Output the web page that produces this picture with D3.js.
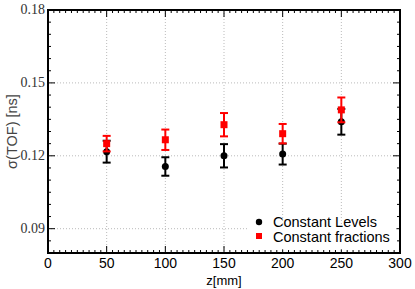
<!DOCTYPE html>
<html>
<head>
<meta charset="utf-8">
<script src="https://cdn.jsdelivr.net/npm/d3@7"></script>
<style>
  body { margin: 0; background: #fff; }
</style>
</head>
<body>
<div id="chart"></div>
<script>
// z positions [mm]
const zPos = [50, 100, 150, 200, 250];
// Constant Levels
const levelsVal = [0.1217, 0.1156, 0.1200, 0.1207, 0.1340];
const levelsErr = [0.0045, 0.0038, 0.0048, 0.0043, 0.0053];
// Constant fractions
const fracVal = [0.1250, 0.1266, 0.1328, 0.1291, 0.1389];
const fracErr = [0.0032, 0.0042, 0.0048, 0.0040, 0.0051];

const xTicks = [0, 50, 100, 150, 200, 250, 300];
const yTicks = [0.09, 0.12, 0.15, 0.18];
const seriesNames = ["Constant Levels", "Constant fractions"];

const W = 415, H = 289;
const margin = { top: 10, right: 15, bottom: 36, left: 48 };

const svg = d3.select("#chart").append("svg")
  .attr("width", W)
  .attr("height", H);

const x = d3.scaleLinear().domain([0, 300]).range([margin.left, W - margin.right]);
const y = d3.scaleLinear().domain([0.08, 0.18]).range([H - margin.bottom, margin.top]);

// grid
svg.append("g")
  .selectAll("line")
  .data(xTicks.slice(1, -1))
  .join("line")
  .attr("x1", d => x(d)).attr("x2", d => x(d))
  .attr("y1", y(0.18)).attr("y2", y(0.08))
  .attr("stroke", "#bbb").attr("stroke-dasharray", "1,2");

svg.append("g")
  .selectAll("line")
  .data(yTicks.slice(0, -1))
  .join("line")
  .attr("x1", x(0)).attr("x2", x(300))
  .attr("y1", d => y(d)).attr("y2", d => y(d))
  .attr("stroke", "#bbb").attr("stroke-dasharray", "1,2");

// ticks on all four sides, pointing inward
const xMinor = d3.range(0, 301, 5);
const yMinor = d3.range(0.08, 0.1801, 0.005);

const ticks = svg.append("g").attr("stroke", "#000").attr("stroke-width", 1);
xMinor.forEach(v => {
  const len = v % 50 === 0 ? 7 : 3;
  ticks.append("line").attr("x1", x(v)).attr("x2", x(v)).attr("y1", y(0.08)).attr("y2", y(0.08) - len);
  ticks.append("line").attr("x1", x(v)).attr("x2", x(v)).attr("y1", y(0.18)).attr("y2", y(0.18) + len);
});
yMinor.forEach(v => {
  const major = yTicks.some(t => Math.abs(t - v) < 1e-6);
  const len = major ? 7 : 3;
  ticks.append("line").attr("x1", x(0)).attr("x2", x(0) + len).attr("y1", y(v)).attr("y2", y(v));
  ticks.append("line").attr("x1", x(300)).attr("x2", x(300) - len).attr("y1", y(v)).attr("y2", y(v));
});

// frame
svg.append("rect")
  .attr("x", x(0)).attr("y", y(0.18))
  .attr("width", x(300) - x(0)).attr("height", y(0.08) - y(0.18))
  .attr("fill", "none").attr("stroke", "#000").attr("stroke-width", 2);

// tick labels
svg.append("g")
  .selectAll("text")
  .data(xTicks)
  .join("text")
  .attr("x", d => x(d)).attr("y", y(0.08) + 15)
  .attr("text-anchor", "middle")
  .attr("font-family", "Liberation Sans, Arial, sans-serif")
  .attr("font-size", 14)
  .text(d => d);

svg.append("g")
  .selectAll("text")
  .data(yTicks)
  .join("text")
  .attr("x", x(0) - 3).attr("y", d => y(d) + 4)
  .attr("text-anchor", "end")
  .attr("font-family", "Liberation Serif, Times New Roman, serif")
  .attr("font-size", 14)
  .attr("fill", "#333")
  .text(d => d.toFixed(2));

// axis titles
svg.append("text")
  .attr("x", (x(0) + x(300)) / 2).attr("y", H - 4)
  .attr("text-anchor", "middle")
  .attr("font-family", "Liberation Sans, Arial, sans-serif")
  .attr("font-size", 13)
  .text("z[mm]");

svg.append("text")
  .attr("transform", `translate(17,${(y(0.08) + y(0.18)) / 2}) rotate(-90)`)
  .attr("text-anchor", "middle")
  .attr("font-family", "Liberation Sans, Arial, sans-serif")
  .attr("font-size", 14.5)
  .attr("fill", "#444")
  .text("σ(TOF) [ns]");

// legend background (covers grid)
svg.append("rect")
  .attr("x", x(170)).attr("y", y(0.0915))
  .attr("width", x(297) - x(170)).attr("height", y(0.0815) - y(0.0915))
  .attr("fill", "#fff");

// error bars + markers
function drawSeries(vals, errs, color, shape) {
  const g = svg.append("g");
  const capW = 4;
  zPos.forEach((z, i) => {
    const cx = x(z), lo = y(vals[i] - errs[i]), hi = y(vals[i] + errs[i]);
    g.append("line").attr("x1", cx).attr("x2", cx).attr("y1", lo).attr("y2", hi)
      .attr("stroke", color).attr("stroke-width", 2);
    [lo, hi].forEach(yy => {
      g.append("line").attr("x1", cx - capW).attr("x2", cx + capW).attr("y1", yy).attr("y2", yy)
        .attr("stroke", color).attr("stroke-width", 2);
    });
    if (shape === "circle") {
      g.append("circle").attr("cx", cx).attr("cy", y(vals[i])).attr("r", 3.5).attr("fill", color);
    } else {
      g.append("rect").attr("x", cx - 3.5).attr("y", y(vals[i]) - 3.5)
        .attr("width", 7).attr("height", 7).attr("fill", color);
    }
  });
}
drawSeries(levelsVal, levelsErr, "#000", "circle");
drawSeries(fracVal, fracErr, "#f00", "square");

// legend
const leg = svg.append("g").attr("font-family", "Liberation Sans, Arial, sans-serif").attr("font-size", 14.5);
leg.append("circle").attr("cx", 259).attr("cy", 222).attr("r", 3.2).attr("fill", "#000");
leg.append("rect").attr("x", 256).attr("y", 233).attr("width", 6).attr("height", 6).attr("fill", "#f00");
leg.append("text").attr("x", 273).attr("y", 227).text(seriesNames[0]);
leg.append("text").attr("x", 273).attr("y", 241.5).text(seriesNames[1]);
</script>
</body>
</html>
